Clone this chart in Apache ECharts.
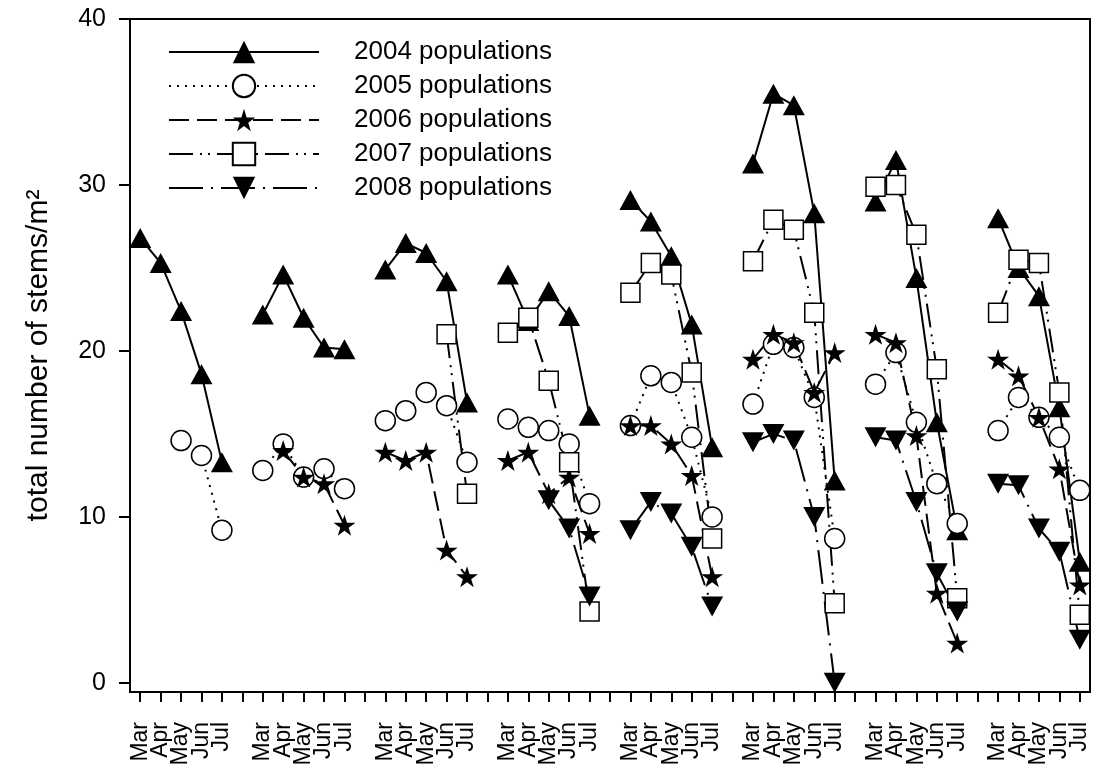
<!DOCTYPE html>
<html>
<head>
<meta charset="utf-8">
<script src="https://cdn.jsdelivr.net/npm/echarts@6/dist/echarts.min.js"></script>
<style>
  html, body { margin: 0; padding: 0; background: #fff; }
  #chart { width: 1102px; height: 770px; }
</style>
</head>
<body>
<div id="chart"></div>
<script>
// ---- data (8 seasons x Mar..Jul) ----
const months = ['Mar', 'Apr', 'May', 'Jun', 'Jul'];
const nGroups = 8;
const yTicks = [0, 10, 20, 30, 40];
const seriesNames = ['2004 populations', '2005 populations', '2006 populations', '2007 populations', '2008 populations'];

const pop2004 = [
  26.8, 25.3, 22.4, 18.6, 13.3,
  22.2, 24.6, 22.0, 20.2, 20.1,
  24.9, 26.5, 25.9, 24.2, 16.9,
  24.6, 21.8, 23.6, 22.1, 16.1,
  29.1, 27.8, 25.7, 21.6, 14.2,
  31.3, 35.5, 34.8, 28.3, 12.2,
  29.0, 31.5, 24.4, 15.7, 9.2,
  28.0, 25.0, 23.3, 16.6, 7.3
];
const pop2005 = [
  null, null, 14.6, 13.7, 9.2,
  12.8, 14.4, 12.4, 12.9, 11.7,
  15.8, 16.4, 17.5, 16.7, 13.3,
  15.9, 15.4, 15.2, 14.4, 10.8,
  15.5, 18.5, 18.1, 14.8, 10.0,
  16.8, 20.4, 20.2, 17.2, 8.7,
  18.0, 19.9, 15.7, 12.0, 9.6,
  15.2, 17.2, 16.0, 14.8, 11.6
];
const pop2006 = [
  null, null, null, null, null,
  null, 14.0, 12.4, 12.0, 9.5,
  13.9, 13.4, 13.9, 8.0, 6.4,
  13.4, 13.9, 11.4, 12.4, 9.0,
  15.5, 15.5, 14.4, 12.5, 6.4,
  19.5, 21.0, 20.5, 17.5, 19.9,
  21.0, 20.5, 14.9, 5.4, 2.4,
  19.5, 18.5, 16.0, 12.9, 5.9
];
const pop2007 = [
  null, null, null, null, null,
  null, null, null, null, null,
  null, null, null, 21.0, 11.4,
  21.1, 22.0, 18.2, 13.3, 4.3,
  23.5, 25.3, 24.6, 18.7, 8.7,
  25.4, 27.9, 27.3, 22.3, 4.8,
  29.9, 30.0, 27.0, 18.9, 5.1,
  22.3, 25.5, 25.3, 17.5, 4.1
];
const pop2008 = [
  null, null, null, null, null,
  null, null, null, null, null,
  null, null, null, null, null,
  null, null, 11.0, 9.3, 5.2,
  9.2, 10.9, 10.2, 8.2, 4.6,
  14.5, 15.0, 14.6, 10.0, 0.0,
  14.8, 14.6, 10.9, 6.6, 4.3,
  12.0, 11.9, 9.3, 7.9, 2.6
];

// ---- build category axis with a blank slot between seasons ----
const categories = [];
for (let g = 0; g < nGroups; g++) {
  months.forEach(m => categories.push(m));
  if (g < nGroups - 1) categories.push('');
}
function expand(vals) {
  const out = [];
  for (let g = 0; g < nGroups; g++) {
    for (let m = 0; m < months.length; m++) {
      const v = vals[g * months.length + m];
      out.push(v == null ? null : v);
    }
    if (g < nGroups - 1) out.push(null);
  }
  return out;
}

const STAR = 'path://M50 0 L61.2 35.5 L98 35.5 L68.2 57.4 L79.4 92 L50 70.6 L20.6 92 L31.8 57.4 L2 35.5 L38.8 35.5 Z';
const TRI_DOWN = 'path://M0 0 L20 0 L10 18 Z';
const FONT = 'Liberation Sans, Arial, sans-serif';

function mk(name, vals, symbol, size, hollow, dash) {
  return {
    name: name,
    type: 'line',
    data: expand(vals),
    connectNulls: false,
    symbol: symbol,
    symbolSize: size,
    showSymbol: true,
    showAllSymbol: true,
    lineStyle: { color: '#000', width: 2, type: dash },
    itemStyle: hollow
      ? { color: '#fff', borderColor: '#000', borderWidth: 1.5, opacity: 1 }
      : { color: '#000', borderColor: '#000', borderWidth: 0, opacity: 1 },
    emphasis: { disabled: true },
    z: 2
  };
}

const chart = echarts.init(document.getElementById('chart'), null, { renderer: 'canvas' });
chart.setOption({
  animation: false,
  backgroundColor: '#fff',
  textStyle: { fontFamily: FONT, color: '#000' },
  grid: {
    left: 130, right: 12, top: 19, bottom: 78,
    show: true, borderColor: '#000', borderWidth: 2, backgroundColor: 'transparent'
  },
  legend: {
    orient: 'vertical',
    left: 168, top: 39,
    padding: 0,
    itemWidth: 150, itemHeight: 28, itemGap: 8,
    selectedMode: false,
    data: seriesNames,
    textStyle: { fontSize: 26, color: '#000', fontFamily: FONT, padding: [0, 0, 0, 30] }
  },
  xAxis: {
    type: 'category',
    data: categories,
    boundaryGap: true,
    axisLine: { show: true, onZero: false, lineStyle: { color: '#000', width: 2 } },
    axisTick: { show: true, interval: 0, alignWithLabel: true, length: 10, lineStyle: { color: '#000', width: 2 } },
    axisLabel: { interval: 0, rotate: 90, margin: 30, fontSize: 23, color: '#000', fontFamily: FONT },
    splitLine: { show: false }
  },
  yAxis: {
    type: 'value',
    min: -0.55, max: 40,
    name: 'total number of stems/m²',
    nameLocation: 'middle',
    nameGap: 76,
    nameTextStyle: { fontSize: 30, color: '#000', fontFamily: FONT },
    axisLine: { show: true, lineStyle: { color: '#000', width: 2 } },
    axisTick: { show: true, length: 11, customValues: yTicks, lineStyle: { color: '#000', width: 2 } },
    axisLabel: { margin: 24, fontSize: 25, color: '#000', customValues: yTicks, fontFamily: FONT },
    splitLine: { show: false }
  },
  series: [
    mk(seriesNames[0], pop2004, 'triangle', [22, 20], false, 'solid'),
    mk(seriesNames[1], pop2005, 'circle', 20, true, [2, 6]),
    mk(seriesNames[2], pop2006, STAR, [22, 21], false, [20, 8]),
    mk(seriesNames[3], pop2007, 'rect', 19, true, [24, 7, 2, 6, 2, 7]),
    mk(seriesNames[4], pop2008, TRI_DOWN, [22, 20], false, [34, 8, 2, 8])
  ]
});
</script>
</body>
</html>
